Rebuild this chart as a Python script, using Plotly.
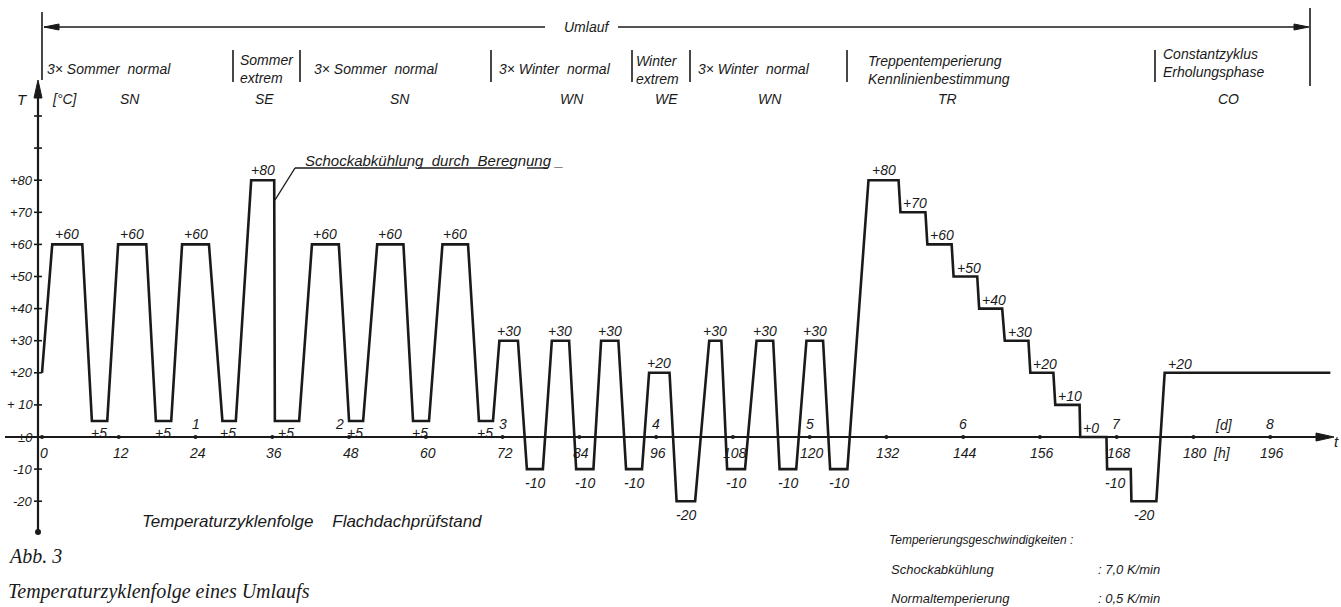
"""Temperaturzyklenfolge eines Umlaufs (Flachdachpruefstand) - line drawing."""
import plotly.graph_objects as go

W, H = 1341, 607
INK = "#1a1a1a"
TECH = "Liberation Sans, Arial, sans-serif"
SERIF = "Liberation Serif, Times New Roman, serif"

# cycle programme: vertices of the temperature curve (time in h, temperature in degC)
TIME_H = [0.0, 1.6, 6.3, 7.8, 10.2, 11.9, 16.3, 17.8, 20.2, 21.9, 26.1, 28.2, 30.3,
          32.7, 36.3, 36.4, 40.2, 42.2, 46.4, 48.0, 50.2, 52.4, 56.5, 58.0, 60.5,
          62.6, 66.6, 68.3, 70.5, 71.5, 74.4, 75.8, 78.3, 79.7, 82.4, 83.5, 86.2,
          87.4, 90.1, 91.3, 93.8, 94.9, 98.1, 99.2, 102.1, 104.3, 106.2, 107.1, 109.9,
          111.7, 114.3, 115.3, 117.9, 119.5, 122.1, 123.2, 125.9, 129.2, 133.9, 134.2, 138.1,
          138.4, 142.2, 142.5, 146.2, 146.5, 150.1, 150.5, 154.2, 154.5, 158.1, 158.4, 162.2,
          162.3, 166.4, 166.5, 170.2, 170.3, 174.2, 175.5, 201.4]
TEMP_C = [20, 60, 60, 5, 5, 60, 60, 5, 5, 60, 60, 5, 5,
          80, 80, 5, 5, 60, 60, 5, 5, 60, 60, 5, 5,
          60, 60, 5, 5, 30, 30, -10, -10, 30, 30, -10, -10,
          30, 30, -10, -10, 20, 20, -20, -20, 30, 30, -10, -10,
          30, 30, -10, -10, 30, 30, -10, -10, 80, 80, 70, 70,
          60, 60, 50, 50, 40, 40, 30, 30, 20, 20, 10, 10,
          0, 0, -10, -10, -20, -20, 20, 20]

# axes
HOUR_TICKS = [0, 12, 24, 36, 48, 60, 72, 84, 96, 108, 120, 132, 144, 156, 168, 180, 192]
HOUR_LABELS = ["0", "12", "24", "36", "48", "60", "72", "84", "96", "108", "120",
               "132", "144", "156", "168", "180", "196"]
DAYS = [1, 2, 3, 4, 5, 6, 7, 8]
TEMP_TICKS = [100, 90, 80, 70, 60, 50, 40, 30, 20, 10, 0, -10, -20]
TEMP_LABELS = ["", "", "+80", "+70", "+60", "+50", "+40", "+30", "+20", "+ 10", "±0", "-10", "-20"]

# phases of one run
PHASE_TITLES = ["3× Sommer  normal", "Sommer<br>extrem", "3× Sommer  normal", "3× Winter  normal",
                "Winter<br>extrem", "3× Winter  normal",
                "Treppentemperierung<br>Kennlinienbestimmung", "Constantzyklus<br>Erholungsphase"]
PHASE_CODES = ["SN", "SE", "SN", "WN", "WE", "WN", "TR", "CO"]

RATE_NAMES = ["Schockabkühlung", "Normaltemperierung"]
RATE_VALUES = [": 7,0 K/min", ": 0,5 K/min"]

# drawing scale (pixels of the sheet)
X0_PX, PX_PER_H = 42, 6.397
Y0_PX, PX_PER_K = 437, 3.21


def hx(px):
    return (px - X0_PX) / PX_PER_H


def ty(py):
    return (Y0_PX - py) / PX_PER_K


fig = go.Figure()

# temperature curve
fig.add_trace(go.Scatter(x=TIME_H, y=TEMP_C, mode="lines",
                         line=dict(color=INK, width=2.6), hoverinfo="skip"))

# tick marks on the T axis
tx, tyy = [], []
for t in TEMP_TICKS:
    tx += [hx(34), hx(42), None]
    tyy += [t, t, None]
fig.add_trace(go.Scatter(x=tx, y=tyy, mode="lines", line=dict(color=INK, width=1.6),
                         hoverinfo="skip"))
# tick dots on the t axis
fig.add_trace(go.Scatter(x=HOUR_TICKS, y=[0] * len(HOUR_TICKS), mode="markers",
                         marker=dict(color=INK, size=4), hoverinfo="skip"))
fig.add_trace(go.Scatter(x=[hx(38)], y=[ty(532)], mode="markers",
                         marker=dict(color=INK, size=6), hoverinfo="skip"))

shapes = []


def seg(x0, y0, x1, y1, w=1.8):
    shapes.append(dict(type="line", xref="x", yref="y", x0=x0, y0=y0, x1=x1, y1=y1,
                       line=dict(color=INK, width=w)))


def head(pts):
    # filled arrow head, points given in sheet pixels
    path = "M" + " L".join(f"{hx(a):.4f},{ty(b):.4f}" for a, b in pts) + " Z"
    shapes.append(dict(type="path", xref="x", yref="y", path=path, fillcolor=INK,
                       line=dict(color=INK, width=1)))


# axes
seg(hx(5), 0, hx(1322), 0, 2.2)
head([(1334, 437), (1316, 433), (1316, 441)])
seg(hx(38), ty(532), hx(38), ty(95), 2.2)
head([(38, 80), (34, 98), (42, 98)])

# "Umlauf" bracket
seg(hx(44), ty(27), hx(545), ty(27), 1.5)
seg(hx(618), ty(27), hx(1300), ty(27), 1.5)
head([(44, 27), (59, 24), (59, 30)])
head([(1309, 27), (1294, 24), (1294, 30)])
seg(hx(42), ty(12), hx(42), ty(80), 1.6)
seg(hx(1310), ty(8), hx(1310), ty(86), 1.6)

# phase separators
for px in [233, 300, 491, 632, 690, 847, 1155]:
    seg(hx(px), ty(50), hx(px), ty(82), 1.6)

# leader for shock cooling note
seg(hx(275), ty(200), hx(295), ty(168), 1.4)
seg(hx(295), ty(168), hx(408), ty(168), 1.4)
seg(hx(418), ty(168), hx(512), ty(168), 1.4)
seg(hx(527), ty(168), hx(548), ty(168), 1.4)

ann = []


def text(px, py, s, size=14, anchor="left", family=TECH, italic=True):
    ann.append(dict(x=hx(px), y=ty(py), xref="x", yref="y", text=f"<i>{s}</i>" if italic else s,
                    showarrow=False, xanchor=anchor, yanchor="middle", align="left",
                    font=dict(size=size, family=family, color=INK)))


# header rows
text(587, 27, "Umlauf", 14, "center")
title_pos = [(45, 69), (238, 69), (312, 69), (497, 69), (634, 70), (696, 69), (866, 70), (1161, 63)]
for s, (px, py) in zip(PHASE_TITLES, title_pos):
    text(px, py, s, 14)
code_pos = [130, 264, 400, 572, 666, 770, 947, 1228]
for s, px in zip(PHASE_CODES, code_pos):
    text(px, 99, s, 14, "center")
text(22, 99, "T", 15, "center")
text(65, 99, "[°C]", 14, "center")

text(303, 160, "Schockabkühlung  durch  Beregnung _", 15)

# axis labels
for t, s in zip(TEMP_TICKS, TEMP_LABELS):
    if s:
        ann.append(dict(x=hx(35), y=t, xref="x", yref="y", text=f"<i>{s}</i>", showarrow=False,
                        xanchor="right", yanchor="middle", font=dict(size=13, family=TECH, color=INK)))
for h, s in zip(HOUR_TICKS, HOUR_LABELS):
    ann.append(dict(x=h, y=0, xref="x", yref="y", text=f"<i>{s}</i>", showarrow=False,
                    xanchor="center", yanchor="middle", yshift=-16, xshift=2,
                    font=dict(size=14, family=TECH, color=INK)))
for d in DAYS:
    ann.append(dict(x=24 * d, y=0, xref="x", yref="y", text=f"<i>{d}</i>", showarrow=False,
                    xanchor="center", yanchor="middle", yshift=13, xshift=-10 if d == 2 else 0,
                    font=dict(size=14, family=TECH, color=INK)))
text(1224, 425, "[d]", 14, "center")
text(1222, 453, "[h]", 14, "center")
text(1336, 441, "t", 15, "center")

# plateau values
n = len(TEMP_C)
for i in range(n - 1):
    t0, t1 = TEMP_C[i], TEMP_C[i + 1]
    if t0 != t1:
        continue
    prev = TEMP_C[i - 1] if i > 0 else None
    nxt = TEMP_C[i + 2] if i + 2 < n else None
    s = f"+{t0}" if t0 >= 0 else f"{t0}"
    mid = (TIME_H[i] + TIME_H[i + 1]) / 2
    base = dict(y=t0, xref="x", yref="y", text=f"<i>{s}</i>", showarrow=False, yanchor="middle",
                font=dict(size=14, family=TECH, color=INK))
    if nxt is not None and prev is not None and prev < t0 and nxt < t0:
        ann.append(dict(base, x=mid, xanchor="center", yshift=10))
    elif nxt is not None and prev is not None and prev > t0 and nxt > t0:
        ann.append(dict(base, x=mid, xanchor="center", yshift=-12 if t0 > 0 else -14,
                        xshift=-1 if t0 > 0 else 0))
    elif t0 < 0:
        ann.append(dict(base, x=mid, xanchor="center", yshift=-14, xshift=-4))
    else:
        ann.append(dict(base, x=TIME_H[i], xanchor="left", yshift=9, xshift=1))

# titles and notes
text(140, 521, "Temperaturzyklenfolge    Flachdachprüfstand", 17)
text(6, 556, "Abb. 3", 20, family=SERIF)
text(6, 591, "Temperaturzyklenfolge eines Umlaufs", 20, family=SERIF)
text(887, 540, "Temperierungsgeschwindigkeiten :", 12)
for k, (a, b) in enumerate(zip(RATE_NAMES, RATE_VALUES)):
    text(889, 569 + 29 * k, a, 13)
    text(1096, 569 + 29 * k, b, 13)

fig.update_layout(
    width=W, height=H, autosize=False,
    margin=dict(l=0, r=0, t=0, b=0),
    paper_bgcolor="white", plot_bgcolor="white",
    showlegend=False,
    xaxis=dict(range=[hx(0), hx(W)], visible=False, fixedrange=True),
    yaxis=dict(range=[ty(H), ty(0)], visible=False, fixedrange=True),
    shapes=shapes, annotations=ann,
)

fig.write_html("out.html", config={"displayModeBar": False},
               post_script="document.body.style.margin='0';")
